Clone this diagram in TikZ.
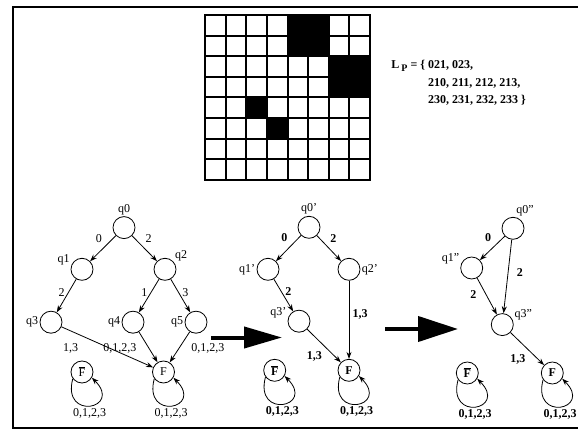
\documentclass[tikz,border=0pt]{standalone}
\usepackage{fontspec}
\setmainfont{Liberation Serif}
\usetikzlibrary{arrows, arrows.meta, automata}
\tikzset{
	every state/.style={minimum size=22pt, inner sep=0pt, line width=.8pt},
	every label/.style={font=\fontsize{12}{14}\selectfont, inner sep=1pt},
	plain/.style={font=\fontsize{12}{14}\selectfont},
	heavy/.style={font=\fontsize{12}{14}\selectfont\bfseries},
	bigarrow/.style={line width=4pt, -{Triangle[length=38pt,width=21pt]}},
	selfloop/.style={to path={.. controls ([shift={(-105:44pt)}]\tikztostart)
		and ([shift={(-45:44pt)}]\tikztotarget) .. (\tikztotarget) \tikztonodes}},
	looplabel/.style={below, inner sep=2pt}
}
\newcommand{\Fbar}{$\overline{\hbox{F}}$}

\begin{document}
\begin{tikzpicture}[x=1pt, y=-1pt, >={Stealth[length=7pt,width=5pt]}, plain, line width=.8pt]
	\useasboundingbox (0,0) rectangle (578,430);
	% frame
	\draw[line width=2.5pt] (578,7) -| (13,428) -- (578,428);

	% pattern P on the 8x8 board
	\foreach \c/\r/\w in {4/0/2, 6/2/2, 2/4/1, 3/5/1}
		\fill (205+20.625*\c, 15+20.625*\r) rectangle ++(20.625*\w, 20.625*\w);
	\foreach \i in {0,...,8} {
		\draw[line width=2pt, line cap=rect] (205+20.625*\i, 15) -- (205+20.625*\i, 180);
		\draw[line width=2pt, line cap=rect] (205, 15+20.625*\i) -- (370, 15+20.625*\i);
	}
	\node[font=\fontsize{12}{17.5}\selectfont\bfseries, anchor=base west, inner sep=0pt] (lp) at (391,69)
		{\begin{tabular}[t]{@{}l@{ }l@{}}
			L\,\raisebox{-3pt}{\fontsize{10}{12}\selectfont P} = \{ & 021, 023,\\
			& 210, 211, 212, 213,\\
			& 230, 231, 232, 233 \}
		\end{tabular}};

	% automaton for L_P
	\node[state, label=above:q0]  (q0) at (124,227.6) {};
	\node[state, label=163:q1]    (q1) at (82,269.3)  {};
	\node[state, label=40:q2]     (q2) at (165,269.3) {};
	\node[state, label=left:q3]   (q3) at (51,322.2)  {};
	\node[state, label=left:q4]   (q4) at (133,322.2) {};
	\node[state, label=left:q5]   (q5) at (196,322.2) {};
	\node[state]                  (F)  at (163.5,372) {F};
	\node[state]                  (nF) at (82,372)    {\Fbar};

	\path[->] (q0) edge node[pos=.4, above left]  {0} (q1)
	          (q0) edge node[pos=.4, above right] {2} (q2)
	          (q1) edge node[pos=.4, left]        {2} (q3)
	          (q2) edge node[pos=.4, left]        {1} (q4)
	          (q2) edge node[pos=.4, right]       {3} (q5)
	          (q3) edge node[pos=.1, below=9pt]   {1,3} (F)
	          (q4) edge node[pos=.55, left=9pt]   {0,1,2,3} (F)
	          (q5) edge node[pos=.55, right=9pt]  {0,1,2,3} (F)
	          (F.-144)  edge[selfloop] node[looplabel] {0,1,2,3} (F.-30)
	          (nF.-144) edge[selfloop] node[looplabel] {0,1,2,3} (nF.-30);

	\coordinate (s1) at (211,337.5);
	\coordinate (e1) at (282,337.5);
	\draw[bigarrow] (s1) -- (e1);

	% after merging q3, q4, q5
	\begin{scope}[heavy]
		\node[state, label=above:q0'] (p0) at (309,227.3)   {};
		\node[state, label=left:q1']  (p1) at (268,269.3)   {};
		\node[state, label=right:q2'] (p2) at (349,269.3)   {};
		\node[state, label=170:q3']   (p3) at (299,321.2)   {};
		\node[state]                  (G)  at (349,370.3)   {F};
		\node[state]                  (nG) at (274.7,370.3) {\Fbar};

		\path[->] (p0) edge node[pos=.4, above left]  {0} (p1)
		          (p0) edge node[pos=.4, above right] {2} (p2)
		          (p1) edge node[pos=.4, right]       {2} (p3)
		          (p2) edge node[pos=.43, right]      {1,3} (G)
		          (p3) edge node[pos=.55, below left] {1,3} (G)
		          (G.-144)  edge[selfloop] node[looplabel] {0,1,2,3} (G.-30)
		          (nG.-144) edge[selfloop] node[looplabel] {0,1,2,3} (nG.-30);
	\end{scope}

	\coordinate (s2) at (385,329);
	\coordinate (e2) at (458,329);
	\draw[bigarrow, -{Triangle[length=40pt,width=25pt]}] (s2) -- (e2);

	% minimal automaton
	\begin{scope}[heavy]
		\node[state, label=80:q0'']   (r0) at (513,228.3)   {};
		\node[state, label=165:q1'']  (r1) at (471.7,268)   {};
		\node[state, label=15:q3'']   (r3) at (502.3,324.6) {};
		\node[state]                  (H)  at (552.3,373)   {F};
		\node[state]                  (nH) at (467.3,373)   {\Fbar};

		\path[->] (r0) edge node[pos=.4, above left]  {0} (r1)
		          (r0) edge node[pos=.45, right=5pt]  {2} (r3)
		          (r1) edge node[pos=.45, left=6pt]   {2} (r3)
		          (r3) edge node[pos=.55, below left] {1,3} (H)
		          (H.-144)  edge[selfloop] node[looplabel] {0,1,2,3} (H.-30)
		          (nH.-144) edge[selfloop] node[looplabel] {0,1,2,3} (nH.-30);
	\end{scope}
\end{tikzpicture}
\end{document}
